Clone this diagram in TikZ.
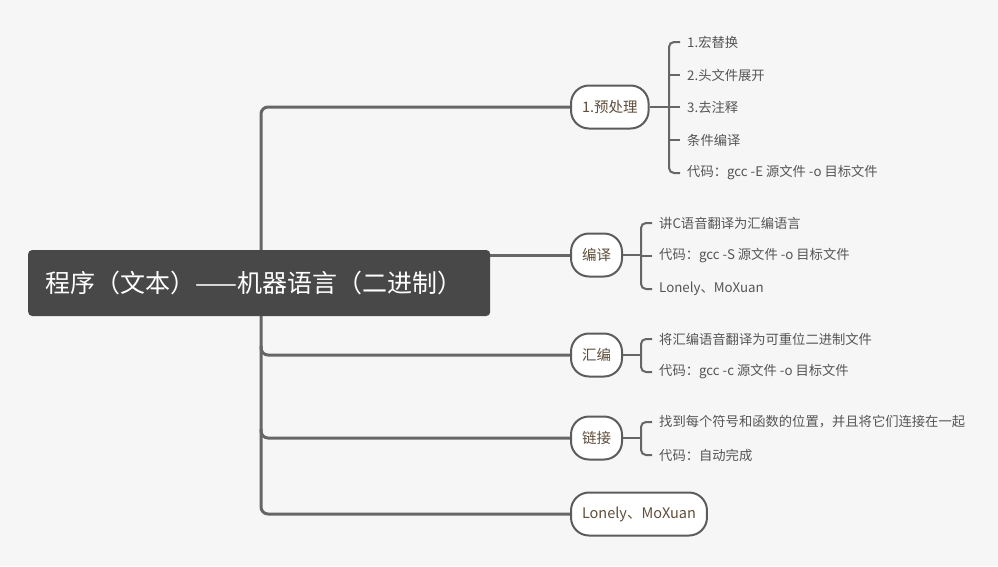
\documentclass[tikz,border=0pt]{standalone}
\usepackage{fontspec}
\setmainfont{Noto Sans CJK SC}
\usepackage{tikz}
\usetikzlibrary{positioning,calc}
\usepackage{xcolor}
\definecolor{paper}{RGB}{246,246,246}
\definecolor{rootfill}{RGB}{72,72,72}
\definecolor{linkgray}{RGB}{102,102,102}
\definecolor{topicink}{RGB}{96,78,58}
\definecolor{leafink}{RGB}{85,85,85}
\pgfdeclarelayer{bg}
\pgfsetlayers{bg,main}

\begin{document}
\begin{tikzpicture}[x=1pt,y=-1pt,
  rootbox/.style={fill=rootfill,rounded corners=4pt,text=white,anchor=west,
    inner xsep=17pt,text width=428pt,align=left,minimum height=66pt,
    font=\fontsize{25}{28}\selectfont},
  topic/.style={draw=linkgray!90!black,line width=2pt,fill=white,rounded corners=18pt,
    anchor=west,inner xsep=11pt,minimum height=43pt,text=topicink,
    font=\fontsize{14.5}{17}\selectfont},
  leaf/.style={anchor=west,inner xsep=7pt,inner ysep=2pt,text=leafink,
    font=\fontsize{13.3}{15}\selectfont},
  trunk/.style={draw=linkgray,line width=3pt,rounded corners=7pt},
  brace/.style={draw=linkgray,line width=2pt,rounded corners=5pt}]
\useasboundingbox (0,0) rectangle (998,566);
\begin{pgfonlayer}{bg}
  \fill[paper] (0,0) rectangle (998,566);
\end{pgfonlayer}

% root and topics
\node[rootbox] (root) at (28,283) {程序（文本）——机器语言（二进制）};
\node[topic] (pre) at (570,107) {1.预处理};
\node[topic] (comp) at (570,255) {编译};
\node[topic] (asm) at (570,355) {汇编};
\node[topic] (lnk) at (570,438) {链接};
\node[topic] (who) at (570,514) {Lonely、MoXuan};
\coordinate (spine) at (261,0);

% leaves
\node[leaf] (pre1) at (680,42) {1.宏替换};
\node[leaf] (pre2) at (680,75) {2.头文件展开};
\node[leaf] (pre3) at (680,107) {3.去注释};
\node[leaf] (pre4) at (680,140) {条件编译};
\node[leaf] (pre5) at (680,173) {代码：gcc -E 源文件 -o 目标文件};
\node[leaf] (comp1) at (652,223) {讲C语音翻译为汇编语言};
\node[leaf] (comp2) at (652,256) {代码：gcc -S 源文件 -o 目标文件};
\node[leaf] (comp3) at (652,289) {Lonely、MoXuan};
\node[leaf] (asm1) at (652,339) {将汇编语音翻译为可重位二进制文件};
\node[leaf] (asm2) at (652,372) {代码：gcc -c 源文件 -o 目标文件};
\node[leaf] (lnk1) at (652,422) {找到每个符号和函数的位置，并且将它们连接在一起};
\node[leaf] (lnk2) at (652,455) {代码：自动完成};
\coordinate (bpre) at (669,0);
\coordinate (bsub) at (641,0);

\begin{pgfonlayer}{bg}
  % main branches
  \draw[trunk] (pre.west) -| (spine |- who.west) -- (who.west);
  \draw[trunk] ([yshift=9pt]spine |- asm.west) |- (asm.west);
  \draw[trunk] ([yshift=9pt]spine |- lnk.west) |- (lnk.west);
  \draw[trunk] (root.east |- comp.west) -- (comp.west);
  % brackets
  \draw[brace] (pre.east) -- (bpre |- pre.east);
  \draw[brace] (pre1.west) -| (bpre |- pre5.west) -- (pre5.west);
  \foreach \n in {pre2,pre3,pre4} \draw[brace] (bpre |- \n.west) -- (\n.west);
  \draw[brace] (comp.east) -- (bsub |- comp.east);
  \draw[brace] (comp1.west) -| (bsub |- comp3.west) -- (comp3.west);
  \draw[brace] (bsub |- comp2.west) -- (comp2.west);
  \draw[brace] (asm.east) -- (bsub |- asm.east);
  \draw[brace] (asm1.west) -| (bsub |- asm2.west) -- (asm2.west);
  \draw[brace] (lnk.east) -- (bsub |- lnk.east);
  \draw[brace] (lnk1.west) -| (bsub |- lnk2.west) -- (lnk2.west);
\end{pgfonlayer}
\end{tikzpicture}
\end{document}
